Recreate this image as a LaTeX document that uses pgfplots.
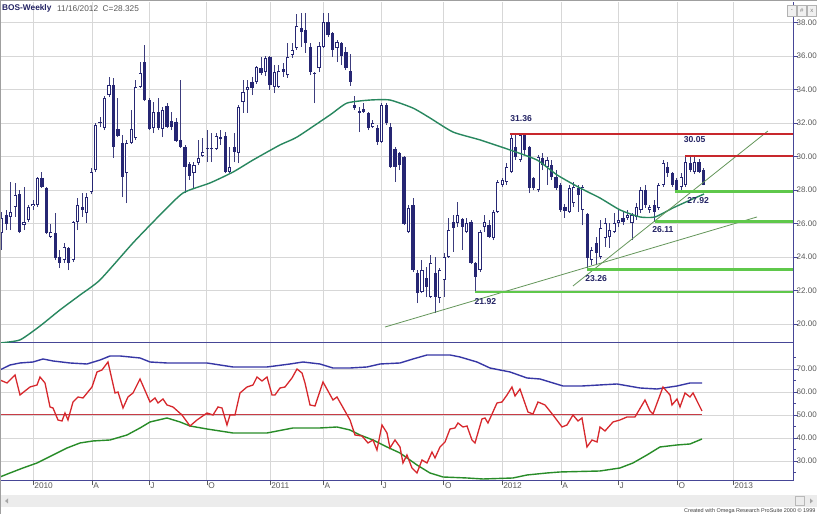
\documentclass[border=0pt]{standalone}
\usepackage{pgfplots}
\pgfplotsset{compat=1.18}
\usepackage{fontspec}
\setmainfont{Liberation Sans}
\definecolor{candle}{RGB}{38,38,115}
\definecolor{wick}{RGB}{60,60,125}
\definecolor{ma}{RGB}{40,135,95}
\definecolor{supred}{RGB}{200,40,45}
\definecolor{supgreen}{RGB}{95,200,75}
\definecolor{trend}{RGB}{100,150,90}
\definecolor{gridc}{RGB}{215,215,215}
\definecolor{axblue}{RGB}{70,70,150}
\definecolor{labgray}{RGB}{90,90,90}
\definecolor{navytext}{RGB}{35,35,100}
\definecolor{oscblue}{RGB}{55,55,165}
\definecolor{oscred}{RGB}{215,40,45}
\definecolor{oscgreen}{RGB}{40,140,40}
\definecolor{midred}{RGB}{200,60,70}
\definecolor{scroll}{RGB}{236,236,236}

\pgfplotsset{
  base/.style={
    scale only axis, anchor=south west,
    xmin=-0.38, xmax=177.02,
    axis x line*=bottom, axis y line*=right,
    axis line style={draw=axblue, line width=1bp},
    xtick={7,20.2,32.95,45.9,60,71.9,84.9,98.9,111.9,125.1,137.9,151.1,163.6},
    grid=major, grid style={draw=gridc, line width=0.8bp},
    tick align=outside, major tick length=4.5bp, minor tick length=2.5bp,
    ytick style={draw=axblue, line width=0.6bp},
    yticklabel pos=right,
    unbounded coords=jump,
    /pgf/number format/fixed, /pgf/number format/fixed zerofill,
    /pgf/number format/precision=2, /pgf/number format/assume math mode=true,
    yticklabel style={font=\fontsize{8bp}{9bp}\selectfont, text=labgray, inner sep=0pt, xshift=-1bp},
  }
}

\begin{document}
\begin{tikzpicture}[x=1bp,y=1bp]
\fill[white] (0,0) rectangle (817,514);

% ---------------- main price panel ----------------
\begin{axis}[base, at={(0bp,171bp)}, width=793bp, height=341bp,
  ymin=18.866, ymax=39.224, ytick={20,22,...,38},
  xticklabels={}, xtick style={draw=none}]
% wicks: (bar, low) (bar, high)
\addplot[wick, line width=0.9bp, mark=none] coordinates {
(0,24.42)(0,26.69)(0,nan) (1,25.61)(1,26.81)(1,nan) (2,25.61)(2,28.48)(2,nan) (3,26.39)(3,28.42)(3,nan)
(4,25.43)(4,28.00)(4,nan) (5,25.61)(5,28.18)(5,nan) (6,26.09)(6,27.10)(6,nan) (7,26.81)(7,27.40)(7,nan)
(8,26.99)(8,28.78)(8,nan) (9,28.12)(9,29.07)(9,nan) (10,25.37)(10,28.18)(10,nan) (11,25.13)(11,25.97)(11,nan)
(12,23.82)(12,26.63)(12,nan) (13,23.34)(13,24.42)(13,nan) (14,23.64)(14,24.84)(14,nan) (15,23.22)(15,24.60)(15,nan)
(16,23.70)(16,26.15)(16,nan) (17,25.61)(17,27.52)(17,nan) (18,26.39)(18,27.82)(18,nan) (19,26.03)(19,27.82)(19,nan)
(20,27.76)(20,29.31)(20,nan) (21,29.07)(21,32.00)(21,nan) (22,31.76)(22,32.36)(22,nan) (23,31.58)(23,33.61)(23,nan)
(24,33.55)(24,34.75)(24,nan) (25,29.91)(25,34.69)(25,nan) (26,31.16)(26,33.49)(26,nan) (27,27.58)(27,31.28)(27,nan)
(28,27.22)(28,30.99)(28,nan) (29,30.75)(29,32.78)(29,nan) (30,30.99)(30,34.57)(30,nan) (31,34.09)(31,35.64)(31,nan)
(32,33.31)(32,36.66)(32,nan) (33,31.58)(33,33.49)(33,nan) (34,31.40)(34,33.25)(34,nan) (35,31.58)(35,33.49)(35,nan)
(36,31.16)(36,32.95)(36,nan) (37,31.70)(37,33.19)(37,nan) (38,31.58)(38,32.66)(38,nan) (39,30.87)(39,32.30)(39,nan)
(40,30.51)(40,34.57)(40,nan) (41,27.82)(41,30.69)(41,nan) (42,28.60)(42,29.67)(42,nan) (43,28.12)(43,29.67)(43,nan)
(44,29.49)(44,30.99)(44,nan) (45,29.97)(45,31.10)(45,nan) (46,29.67)(46,31.58)(46,nan) (47,29.67)(47,31.40)(47,nan)
(48,30.39)(48,31.40)(48,nan) (49,30.69)(49,31.58)(49,nan) (50,29.01)(50,31.46)(50,nan) (51,29.01)(51,30.57)(51,nan)
(52,29.67)(52,31.40)(52,nan) (53,29.61)(53,33.07)(53,nan) (54,32.60)(54,34.57)(54,nan) (55,32.60)(55,34.57)(55,nan)
(56,33.67)(56,34.75)(56,nan) (57,34.33)(57,35.40)(57,nan) (58,34.86)(58,35.94)(58,nan) (59,34.80)(59,36.00)(59,nan)
(60,33.97)(60,36.00)(60,nan) (61,33.79)(61,35.46)(61,nan) (62,34.09)(62,35.46)(62,nan) (63,34.75)(63,35.58)(63,nan)
(64,34.69)(64,36.77)(64,nan) (65,35.88)(65,36.77)(65,nan) (66,36.36)(66,38.51)(66,nan) (67,36.54)(67,38.57)(67,nan)
(68,36.18)(68,38.57)(68,nan) (69,34.86)(69,36.77)(69,nan) (70,33.19)(70,35.04)(70,nan) (71,35.04)(71,36.83)(71,nan)
(72,36.48)(72,38.57)(72,nan) (73,37.13)(73,38.57)(73,nan) (74,35.94)(74,37.43)(74,nan) (75,35.64)(75,36.95)(75,nan)
(76,35.46)(76,36.83)(76,nan) (77,35.16)(77,36.54)(77,nan) (78,34.21)(78,36.12)(78,nan) (79,32.78)(79,33.61)(79,nan)
(80,31.46)(80,32.95)(80,nan) (81,32.60)(81,33.19)(81,nan) (82,31.58)(82,32.66)(82,nan) (83,31.70)(83,32.18)(83,nan)
(84,30.69)(84,31.88)(84,nan) (85,30.81)(85,33.19)(85,nan) (86,31.88)(86,33.19)(86,nan) (87,29.31)(87,32.00)(87,nan)
(88,28.48)(88,30.57)(88,nan) (89,29.19)(89,30.27)(89,nan) (90,25.91)(90,30.03)(90,nan) (91,25.43)(91,27.10)(91,nan)
(92,23.10)(92,27.52)(92,nan) (93,21.25)(93,23.22)(93,nan) (94,21.85)(94,23.82)(94,nan) (95,21.61)(95,23.40)(95,nan)
(96,21.55)(96,24.12)(96,nan) (97,20.66)(97,24.00)(97,nan) (98,21.25)(98,23.34)(98,nan) (99,21.61)(99,24.24)(99,nan)
(100,23.94)(100,26.33)(100,nan) (101,24.30)(101,26.51)(101,nan) (102,25.79)(102,27.28)(102,nan) (103,24.42)(103,26.33)(103,nan)
(104,25.43)(104,26.33)(104,nan) (105,23.58)(105,26.21)(105,nan) (106,21.92)(106,23.70)(106,nan) (107,23.10)(107,25.61)(107,nan)
(108,25.49)(108,26.51)(108,nan) (109,25.13)(109,26.21)(109,nan) (110,25.01)(110,26.81)(110,nan) (111,26.63)(111,28.60)(111,nan)
(112,28.18)(112,28.72)(112,nan) (113,28.30)(113,29.61)(113,nan) (114,29.01)(114,31.36)(114,nan) (115,29.79)(115,31.30)(115,nan)
(116,29.67)(116,31.30)(116,nan) (117,30.09)(117,31.30)(117,nan) (118,27.82)(118,30.60)(118,nan) (119,28.00)(119,28.78)(119,nan)
(120,27.88)(120,30.09)(120,nan) (121,29.19)(121,30.21)(121,nan) (122,28.30)(122,29.97)(122,nan) (123,28.60)(123,29.79)(123,nan)
(124,28.00)(124,29.19)(124,nan) (125,26.69)(125,28.42)(125,nan) (126,26.33)(126,27.16)(126,nan) (127,26.63)(127,28.30)(127,nan)
(128,26.99)(128,28.48)(128,nan) (129,26.69)(129,28.30)(129,nan) (130,25.91)(130,28.30)(130,nan) (131,23.26)(131,26.63)(131,nan)
(132,23.50)(132,24.60)(132,nan) (133,23.50)(133,25.20)(133,nan) (134,23.88)(134,26.21)(134,nan) (135,24.60)(135,26.33)(135,nan)
(136,24.54)(136,26.03)(136,nan) (137,25.43)(137,26.63)(137,nan) (138,25.79)(138,26.81)(138,nan) (139,25.91)(139,26.69)(139,nan)
(140,26.21)(140,26.81)(140,nan) (141,25.01)(141,26.63)(141,nan) (142,26.21)(142,27.22)(142,nan) (143,26.63)(143,28.18)(143,nan)
(144,26.93)(144,28.30)(144,nan) (145,26.63)(145,27.10)(145,nan) (146,26.11)(146,27.40)(146,nan) (147,26.81)(147,28.42)(147,nan)
(148,28.18)(148,29.79)(148,nan) (149,28.78)(149,29.67)(149,nan) (150,28.20)(150,29.10)(150,nan) (151,27.92)(151,28.70)(151,nan)
(152,28.00)(152,29.00)(152,nan) (153,28.18)(153,30.05)(153,nan) (154,29.07)(154,29.97)(154,nan) (155,28.95)(155,29.97)(155,nan)
(156,29.01)(156,29.85)(156,nan) (157,28.28)(157,29.31)(157,nan)};
% bodies: (bar, open) (bar, close)
\addplot[candle, line width=3.2bp, mark=none] coordinates {
(0,25.43)(0,26.33)(0,nan) (1,26.51)(1,25.97)(1,nan) (2,26.39)(2,26.69)(2,nan) (3,26.99)(3,27.70)(3,nan)
(4,27.76)(4,25.49)(4,nan) (5,25.91)(5,26.09)(5,nan) (6,26.21)(6,26.99)(6,nan) (7,27.04)(7,27.16)(7,nan)
(8,27.10)(8,28.72)(8,nan) (9,28.72)(9,28.18)(9,nan) (10,28.12)(10,25.43)(10,nan) (11,25.19)(11,25.49)(11,nan)
(12,25.43)(12,23.94)(12,nan) (13,24.00)(13,23.64)(13,nan) (14,23.82)(14,24.60)(14,nan) (15,24.54)(15,23.64)(15,nan)
(16,23.82)(16,26.09)(16,nan) (17,26.09)(17,27.10)(17,nan) (18,26.99)(18,26.81)(18,nan) (19,26.63)(19,27.58)(19,nan)
(20,27.88)(20,29.07)(20,nan) (21,29.19)(21,31.88)(21,nan) (22,32.06)(22,31.98)(22,nan) (23,31.70)(23,33.49)(23,nan)
(24,33.67)(24,34.27)(24,nan) (25,34.27)(25,30.57)(25,nan) (26,31.64)(26,31.22)(26,nan) (27,30.81)(27,28.78)(27,nan)
(28,29.01)(28,30.81)(28,nan) (29,30.81)(29,31.64)(29,nan) (30,31.10)(30,34.15)(30,nan) (31,34.15)(31,34.98)(31,nan)
(32,35.64)(32,33.37)(32,nan) (33,33.37)(33,31.64)(33,nan) (34,31.70)(34,32.66)(34,nan) (35,32.66)(35,31.70)(35,nan)
(36,31.64)(36,32.78)(36,nan) (37,33.01)(37,31.76)(37,nan) (38,32.12)(38,31.76)(38,nan) (39,32.06)(39,30.93)(39,nan)
(40,30.99)(40,30.57)(40,nan) (41,30.57)(41,29.37)(41,nan) (42,29.55)(42,28.84)(42,nan) (43,29.01)(43,29.49)(43,nan)
(44,29.61)(44,29.91)(44,nan) (45,30.03)(45,30.27)(45,nan) (46,30.50)(46,30.42)(46,nan) (47,30.42)(47,30.50)(47,nan)
(48,30.45)(48,31.22)(48,nan) (49,31.14)(49,31.06)(49,nan) (50,31.22)(50,29.07)(50,nan) (51,29.07)(51,29.37)(51,nan)
(52,30.57)(52,30.27)(52,nan) (53,30.21)(53,32.95)(53,nan) (54,33.25)(54,33.85)(54,nan) (55,33.97)(55,34.15)(55,nan)
(56,34.45)(56,34.09)(56,nan) (57,34.45)(57,35.34)(57,nan) (58,35.28)(58,34.98)(58,nan) (59,35.04)(59,35.88)(59,nan)
(60,35.94)(60,34.27)(60,nan) (61,34.15)(61,35.04)(61,nan) (62,34.15)(62,35.10)(62,nan) (63,35.22)(63,35.04)(63,nan)
(64,34.86)(64,35.94)(64,nan) (65,36.06)(65,36.36)(65,nan) (66,36.48)(66,37.79)(66,nan) (67,37.67)(67,37.43)(67,nan)
(68,37.55)(68,36.77)(68,nan) (69,36.54)(69,35.04)(69,nan) (70,35.00)(70,34.92)(70,nan) (71,35.28)(71,36.60)(71,nan)
(72,36.54)(72,38.03)(72,nan) (73,38.03)(73,37.25)(73,nan) (74,37.37)(74,36.36)(74,nan) (75,36.48)(75,36.83)(75,nan)
(76,36.77)(76,36.00)(76,nan) (77,36.24)(77,35.28)(77,nan) (78,35.10)(78,34.45)(78,nan) (79,33.07)(79,32.89)(79,nan)
(80,32.60)(80,32.71)(80,nan) (81,32.83)(81,32.66)(81,nan) (82,32.60)(82,31.70)(82,nan) (83,31.76)(83,32.00)(83,nan)
(84,31.70)(84,30.87)(84,nan) (85,30.87)(85,33.07)(85,nan) (86,33.07)(86,32.00)(86,nan) (87,31.76)(87,29.37)(87,nan)
(88,30.45)(88,29.37)(88,nan) (89,30.21)(89,29.49)(89,nan) (90,29.97)(90,25.97)(90,nan) (91,25.49)(91,26.93)(91,nan)
(92,27.10)(92,23.22)(92,nan) (93,23.04)(93,21.85)(93,nan) (94,21.91)(94,23.22)(94,nan) (95,22.74)(95,22.21)(95,nan)
(96,21.61)(96,23.64)(96,nan) (97,23.04)(97,21.61)(97,nan) (98,21.55)(98,23.22)(98,nan) (99,22.63)(99,24.00)(99,nan)
(100,24.00)(100,25.61)(100,nan) (101,26.09)(101,25.73)(101,nan) (102,26.03)(102,26.51)(102,nan) (103,26.27)(103,25.79)(103,nan)
(104,25.49)(104,26.03)(104,nan) (105,26.09)(105,23.64)(105,nan) (106,23.64)(106,22.81)(106,nan) (107,23.22)(107,25.49)(107,nan)
(108,25.79)(108,26.09)(108,nan) (109,25.91)(109,25.19)(109,nan) (110,25.13)(110,26.69)(110,nan) (111,26.69)(111,28.48)(111,nan)
(112,28.30)(112,28.60)(112,nan) (113,28.48)(113,29.37)(113,nan) (114,29.07)(114,31.10)(114,nan) (115,30.57)(115,29.97)(115,nan)
(116,29.79)(116,31.26)(116,nan) (117,31.28)(117,30.39)(117,nan) (118,30.57)(118,28.12)(118,nan) (119,28.72)(119,28.12)(119,nan)
(120,28.00)(120,29.97)(120,nan) (121,29.91)(121,29.49)(121,nan) (122,29.37)(122,29.79)(122,nan) (123,29.49)(123,28.78)(123,nan)
(124,28.78)(124,28.12)(124,nan) (125,28.30)(125,26.81)(125,nan) (126,26.99)(126,26.75)(126,nan) (127,26.69)(127,28.12)(127,nan)
(128,27.22)(128,28.18)(128,nan) (129,28.12)(129,27.70)(129,nan) (130,26.81)(130,28.18)(130,nan) (131,26.57)(131,23.94)(131,nan)
(132,23.82)(132,24.42)(132,nan) (133,24.84)(133,24.24)(133,nan) (134,24.00)(134,25.73)(134,nan) (135,25.13)(135,26.03)(135,nan)
(136,25.19)(136,25.61)(136,nan) (137,25.49)(137,26.03)(137,nan) (138,26.03)(138,26.21)(138,nan) (139,26.33)(139,26.09)(139,nan)
(140,26.33)(140,26.51)(140,nan) (141,26.03)(141,26.51)(141,nan) (142,26.39)(142,26.99)(142,nan) (143,26.81)(143,28.00)(143,nan)
(144,28.00)(144,27.10)(144,nan) (145,26.81)(145,26.99)(145,nan) (146,27.10)(146,26.69)(146,nan) (147,26.93)(147,28.30)(147,nan)
(148,28.30)(148,29.61)(148,nan) (149,29.37)(149,29.01)(149,nan) (150,29.01)(150,28.30)(150,nan) (151,28.60)(151,27.94)(151,nan)
(152,28.18)(152,28.78)(152,nan) (153,28.30)(153,29.67)(153,nan) (154,29.61)(154,29.19)(154,nan) (155,29.07)(155,29.67)(155,nan)
(156,29.67)(156,29.07)(156,nan) (157,29.19)(157,28.325)(157,nan)};
% hollow interiors of the rising weeks
\addplot[white, line width=1.6bp, mark=none] coordinates {
(0,25.48)(0,26.28)(0,nan) (2,26.44)(2,26.64)(2,nan) (3,27.04)(3,27.65)(3,nan) (5,25.96)(5,26.04)(5,nan)
(6,26.26)(6,26.94)(6,nan) (7,27.09)(7,27.11)(7,nan) (8,27.15)(8,28.67)(8,nan) (11,25.24)(11,25.44)(11,nan)
(14,23.87)(14,24.55)(14,nan) (16,23.87)(16,26.04)(16,nan) (17,26.14)(17,27.05)(17,nan) (19,26.68)(19,27.53)(19,nan)
(20,27.93)(20,29.02)(20,nan) (21,29.24)(21,31.83)(21,nan) (23,31.75)(23,33.44)(23,nan) (24,33.72)(24,34.22)(24,nan)
(28,29.06)(28,30.76)(28,nan) (29,30.86)(29,31.59)(29,nan) (30,31.15)(30,34.10)(30,nan) (31,34.20)(31,34.93)(31,nan)
(34,31.75)(34,32.61)(34,nan) (36,31.69)(36,32.73)(36,nan) (43,29.06)(43,29.44)(43,nan) (44,29.66)(44,29.86)(44,nan)
(45,30.08)(45,30.22)(45,nan) (48,30.50)(48,31.17)(48,nan) (51,29.12)(51,29.32)(51,nan) (53,30.26)(53,32.90)(53,nan)
(54,33.30)(54,33.80)(54,nan) (55,34.02)(55,34.10)(55,nan) (57,34.50)(57,35.29)(57,nan) (59,35.09)(59,35.83)(59,nan)
(61,34.20)(61,34.99)(61,nan) (62,34.20)(62,35.05)(62,nan) (64,34.91)(64,35.89)(64,nan) (65,36.11)(65,36.31)(65,nan)
(66,36.53)(66,37.74)(66,nan) (71,35.33)(71,36.55)(71,nan) (72,36.59)(72,37.98)(72,nan) (75,36.53)(75,36.78)(75,nan)
(83,31.81)(83,31.95)(83,nan) (85,30.92)(85,33.02)(85,nan) (91,25.54)(91,26.88)(91,nan) (94,21.96)(94,23.17)(94,nan)
(96,21.66)(96,23.59)(96,nan) (98,21.60)(98,23.17)(98,nan) (99,22.68)(99,23.95)(99,nan) (100,24.05)(100,25.56)(100,nan)
(102,26.08)(102,26.46)(102,nan) (104,25.54)(104,25.98)(104,nan) (107,23.27)(107,25.44)(107,nan) (108,25.84)(108,26.04)(108,nan)
(110,25.18)(110,26.64)(110,nan) (111,26.74)(111,28.43)(111,nan) (112,28.35)(112,28.55)(112,nan) (113,28.53)(113,29.32)(113,nan)
(114,29.12)(114,31.05)(114,nan) (116,29.84)(116,31.21)(116,nan) (120,28.05)(120,29.92)(120,nan) (122,29.42)(122,29.74)(122,nan)
(127,26.74)(127,28.07)(127,nan) (128,27.27)(128,28.13)(128,nan) (130,26.86)(130,28.13)(130,nan) (132,23.87)(132,24.37)(132,nan)
(134,24.05)(134,25.68)(134,nan) (135,25.18)(135,25.98)(135,nan) (136,25.24)(136,25.56)(136,nan) (137,25.54)(137,25.98)(137,nan)
(138,26.08)(138,26.16)(138,nan) (140,26.38)(140,26.46)(140,nan) (141,26.08)(141,26.46)(141,nan) (142,26.44)(142,26.94)(142,nan)
(143,26.86)(143,27.95)(143,nan) (145,26.86)(145,26.94)(145,nan) (147,26.98)(147,28.25)(147,nan) (148,28.35)(148,29.56)(148,nan)
(152,28.23)(152,28.73)(152,nan) (153,28.35)(153,29.62)(153,nan) (155,29.12)(155,29.62)(155,nan)};
% moving average
\addplot[ma, line width=1.4bp, mark=none, smooth, tension=0.35] coordinates {
(-0.38,18.87) (4.09,19.05) (8.57,19.88) (13.04,20.84) (17.52,21.73) (21.99,22.63)
(29.37,24.84) (35.41,26.51) (40.56,27.82) (46.60,28.42) (51.74,29.07) (56.22,29.79)
(62.26,30.69) (66.06,31.16) (73.44,32.48) (77.25,33.19) (82.39,33.37) (86.87,33.37)
(92.01,32.89) (95.81,32.30) (100.96,31.46) (107.0,30.99) (113.71,30.39) (119.75,29.79)
(124.23,28.90) (129.37,28.12) (133.85,27.52) (138.32,26.81) (142.79,26.39) (146.15,26.39)
(150.18,26.93) (153.53,27.34) (157.11,27.76)};
% trend lines
\addplot[trend, line width=0.8bp, mark=none] coordinates {(85.75,19.82) (168.97,26.39)};
\addplot[trend, line width=0.8bp, mark=none] coordinates {(127.8,22.27) (171.4,31.52)};
% support / resistance
\addplot[supred, line width=2bp, mark=none] coordinates {(113.7,31.36) (177.02,31.36)};
\addplot[supred, line width=2bp, mark=none] coordinates {(152.9,30.05) (177.02,30.05)};
\addplot[supgreen, line width=2.4bp, mark=none] coordinates {(150.6,27.92) (177.02,27.92)};
\addplot[supgreen, line width=2.4bp, mark=none] coordinates {(146.2,26.11) (177.02,26.11)};
\addplot[supgreen, line width=2.4bp, mark=none] coordinates {(130.9,23.26) (177.02,23.26)};
\addplot[supgreen, line width=2.4bp, mark=none] coordinates {(105.9,21.92) (177.02,21.92)};
% labels
\begin{scope}[every node/.style={font=\bfseries\fontsize{8.6bp}{9bp}\selectfont, text=navytext, inner sep=0pt}]
\node at (116.2,32.27) {31.36};
\node at (155.0,30.99) {30.05};
\node at (155.8,27.40) {27.92};
\node at (147.9,25.61) {26.11};
\node at (132.96,22.69) {23.26};
\node at (108.2,21.37) {21.92};
\end{scope}
\end{axis}

% ---------------- lower indicator panel ----------------
\begin{axis}[base, at={(0bp,33bp)}, width=793bp, height=138bp,
  ymin=21.30, ymax=81.30, ytick={30,40,...,70}, minor ytick={25,35,...,75},
  xticklabels={2010,A,J,O,2011,A,J,O,2012,A,J,O,2013},
  xtick style={draw=labgray, line width=0.7bp},
  xticklabel style={anchor=north west, font=\fontsize{8.3bp}{9bp}\selectfont, text=labgray,
     inner sep=0pt, xshift=1.2bp, yshift=2.5bp}]
\addplot[midred, line width=1bp, mark=none] coordinates {(-0.38,50) (156.66,50)};
\addplot[oscblue, line width=1.4bp, mark=none] coordinates {
(-0.4,69.57) (1.86,71.74) (4.09,72.61) (7.0,73.04) (9.24,74.35) (11.48,73.48) (15.28,72.61)
(19.08,72.17) (22.0,73.91) (24.23,75.65) (26.46,75.65) (30.94,74.78) (33.18,73.04)
(36.98,72.61) (42.79,72.61) (45.93,72.61) (51.74,70.87) (59.35,70.87) (64.49,72.17)
(67.40,73.04) (71.20,72.17) (74.11,70.43) (77.92,70.43) (81.72,70.87) (84.63,72.17)
(89.10,72.61) (92.01,74.35) (95.14,76.09) (100.29,76.09) (102.52,75.22) (106.32,73.04)
(109.23,70.43) (113.71,68.70) (117.51,66.09) (120.42,65.65) (125.56,62.61) (129.81,62.61)
(137.64,63.48) (142.79,61.74) (146.59,61.30) (151.07,62.61) (153.97,63.91) (156.66,63.91)};
\addplot[oscgreen, line width=1.4bp, mark=none] coordinates {
(-0.4,23.04) (1.86,24.78) (4.76,26.96) (7.9,29.13) (11.48,32.61) (14.61,35.65) (17.52,37.83)
(20.42,38.70) (24.23,39.13) (28.03,41.30) (30.94,44.35) (33.18,46.96) (36.98,48.70)
(39.89,46.96) (42.12,45.22) (45.93,43.91) (51.74,42.17) (59.35,42.17) (65.16,44.35)
(71.20,44.35) (75.01,44.78) (77.92,43.48) (80.15,41.30) (83.06,39.13) (86.19,36.09)
(89.10,33.48) (92.90,28.26) (95.81,24.78) (98.72,23.04) (104.09,22.61) (107.67,22.17)
(114.38,22.61) (117.51,23.91) (121.98,24.78) (124.89,25.22) (133.84,25.65) (138.31,26.96)
(141.22,29.13) (144.35,32.61) (147.26,36.09) (151.07,36.96) (153.97,37.39) (156.66,39.57)};
\addplot[oscred, line width=1.3bp, mark=none] coordinates {
(-0.4,65.22) (1.19,63.91) (2.98,67.39) (4.09,58.70) (6.33,62.17) (7.9,63.04) (8.57,66.52)
(9.69,63.91) (10.81,53.48) (11.48,53.04) (12.59,47.83) (13.49,47.39) (14.16,50.87)
(14.83,47.83) (15.95,55.65) (17.07,57.83) (18.19,57.39) (20.20,62.17) (21.32,68.70)
(22.44,69.57) (23.78,73.04) (25.35,59.57) (26.02,60.00) (27.14,53.04) (28.25,57.83)
(29.37,59.57) (30.94,65.65) (33.18,55.65) (34.29,57.39) (34.97,55.22) (36.08,56.96)
(36.98,54.35) (38.32,53.48) (40.33,50.00) (42.12,45.22) (43.69,47.83) (45.93,50.87)
(47.27,50.00) (48.39,53.48) (49.28,53.04) (50.40,45.65) (51.07,50.00) (52.19,50.00)
(53.31,59.57) (54.87,62.17) (56.22,63.04) (57.11,66.52) (58.23,64.78) (59.35,66.52)
(60.47,58.70) (61.14,58.70) (62.26,61.74) (63.37,62.17) (64.94,66.09) (66.06,70.00)
(67.18,68.26) (67.85,63.91) (68.97,54.35) (70.09,53.91) (71.88,64.35) (74.11,56.52)
(75.01,57.83) (77.92,47.83) (79.03,41.30) (80.60,40.87) (81.94,37.83) (83.06,39.13)
(83.95,34.78) (85.07,45.65) (86.19,42.17) (86.86,35.65) (87.98,39.13) (89.10,36.09)
(89.77,29.13) (90.66,32.61) (91.78,26.96) (92.90,24.78) (94.02,30.43) (95.14,29.13)
(96.26,33.91) (96.93,31.30) (98.05,36.09) (99.17,38.26) (100.29,43.91) (101.40,44.35)
(102.07,46.52) (103.19,44.78) (104.09,45.22) (105.20,39.13) (105.88,37.83) (107.44,48.26)
(108.11,48.70) (108.78,46.52) (110.80,55.22) (111.92,55.65) (113.04,58.70) (114.15,62.17)
(114.83,58.26) (115.94,61.30) (117.73,51.30) (118.85,50.43) (119.97,55.65) (121.54,54.35)
(123.33,50.00) (125.34,44.78) (126.46,45.65) (127.80,50.00) (128.92,47.39) (129.81,48.70)
(130.93,36.09) (132.05,39.13) (133.17,38.26) (133.84,44.78) (134.96,43.04) (136.75,46.96)
(138.31,47.83) (139.88,49.13) (141.67,49.13) (143.91,56.52) (145.03,51.74) (145.70,50.43)
(147.93,62.17) (149.50,58.70) (149.95,54.35) (151.07,56.96) (151.74,53.48) (152.86,59.57)
(153.97,57.83) (154.65,59.57) (156.66,51.74)};
\end{axis}

% ---------------- frame, title, scrollbar ----------------
\draw[gray!75, line width=1.5bp] (0,513.3) -- (817,513.3);
\draw[gray!75, line width=1.5bp] (0.7,0) -- (0.7,514);
\node[anchor=west, inner sep=0pt, text=navytext, font=\bfseries\fontsize{8.3bp}{9bp}\selectfont] at (2,505.5) {BOS-Weekly};
\node[anchor=west, inner sep=0pt, text=labgray, font=\fontsize{8.3bp}{9bp}\selectfont] at (57,505.5) {11/16/2012 \ C=28.325};
\foreach \xx/\g in {787/-,797/\#,807/x}{
  \draw[gray!60, fill=gray!12] (\xx,498) rectangle ++(9.5,11);
  \node[text=gray, inner sep=0pt, font=\fontsize{6bp}{7bp}\selectfont] at (\xx+4.75,503.5) {\g};
}
\fill[scroll] (1.5,7) rectangle (817,19);
\fill[gray!70] (5,13) -- (8,15.5) -- (8,10.5) -- cycle;
\draw[gray!55, fill=gray!15] (795,8.5) rectangle ++(9,9);
\fill[gray!70] (813,13) -- (810,15.5) -- (810,10.5) -- cycle;
\node[anchor=base west, inner sep=0pt, text=black!75, font=\fontsize{5.5bp}{6bp}\selectfont] at (684,1.2) {Created with Omega Research ProSuite 2000 © 1999};
\pgfresetboundingbox
\useasboundingbox (0,0) rectangle (817,514);
\end{tikzpicture}
\end{document}
